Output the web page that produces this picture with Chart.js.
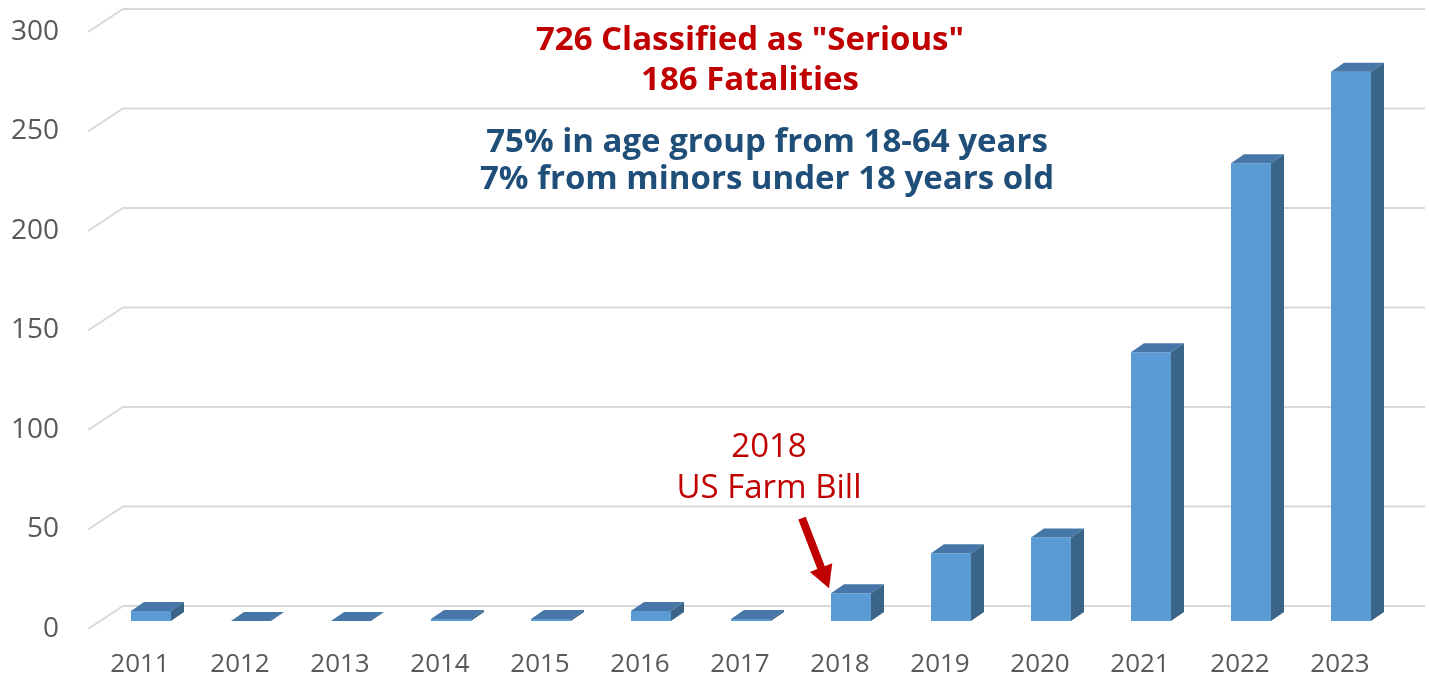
<!DOCTYPE html>
<html>
<head>
<meta charset="utf-8">
<script src="https://cdn.jsdelivr.net/npm/chart.js@4.4.1/dist/chart.umd.min.js"></script>
<style>
  html, body { margin: 0; padding: 0; background: #fff; }
  #wrap { width: 1429px; height: 676px; }
</style>
</head>
<body>
<div id="wrap"><canvas id="chart"></canvas></div>
<script>
const years = ['2011', '2012', '2013', '2014', '2015', '2016', '2017', '2018', '2019', '2020', '2021', '2022', '2023'];
const reports = [5, 0, 0, 1, 1, 5, 1, 14, 34, 42, 135, 230, 276];
const yTicks = [0, 50, 100, 150, 200, 250, 300];

const seriousNotes = ['726 Classified as "Serious"', '186 Fatalities'];
const ageNotes = ['75% in age group from 18-64 years', '7% from minors under 18 years old'];
const farmBillNotes = ['2018', 'US Farm Bill'];
const farmBillYear = '2018';

// fake 3d: floor depth, where the bars sit inside it, and bar depth
const WALL_DX = 35, WALL_DY = 23;
const BAR_DX = 11, BAR_DY = 8;
const SIDE_DX = 13, SIDE_DY = 9;

const FONT = '"Open Sans", sans-serif';
const RED = '#C00000';
const BLUE = '#1F4E79';

const wall3d = {
  id: 'wall3d',
  beforeDatasetsDraw(chart) {
    const { ctx, chartArea, scales } = chart;
    ctx.save();
    ctx.strokeStyle = '#D9D9D9';
    ctx.lineWidth = 2;
    yTicks.forEach(v => {
      const y = scales.y.getPixelForValue(v);
      ctx.beginPath();
      ctx.moveTo(chartArea.left - 2, y);
      ctx.lineTo(chartArea.left - 2 + WALL_DX, y - WALL_DY);
      ctx.lineTo(chartArea.right + WALL_DX, y - WALL_DY);
      ctx.stroke();
    });
    ctx.restore();

    // bars are drawn a bit behind the front edge of the floor
    ctx.save();
    ctx.translate(BAR_DX, -BAR_DY);
  },
  afterDatasetsDraw(chart) {
    const { ctx } = chart;
    const meta = chart.getDatasetMeta(0);
    meta.data.forEach(bar => {
      const { x, y, base, width } = bar.getProps(['x', 'y', 'base', 'width'], true);
      const l = x - width / 2, r = x + width / 2;
      ctx.fillStyle = '#4677A8';
      ctx.beginPath();
      ctx.moveTo(l, y);
      ctx.lineTo(l + SIDE_DX, y - SIDE_DY);
      ctx.lineTo(r + SIDE_DX, y - SIDE_DY);
      ctx.lineTo(r, y);
      ctx.closePath();
      ctx.fill();
      ctx.fillStyle = '#3A6589';
      ctx.beginPath();
      ctx.moveTo(r, y);
      ctx.lineTo(r + SIDE_DX, y - SIDE_DY);
      ctx.lineTo(r + SIDE_DX, base - SIDE_DY);
      ctx.lineTo(r, base);
      ctx.closePath();
      ctx.fill();
    });
    ctx.restore();
  }
};

const notes = {
  id: 'notes',
  afterDraw(chart) {
    const { ctx } = chart;
    ctx.save();
    ctx.textAlign = 'center';
    ctx.textBaseline = 'alphabetic';

    ctx.fillStyle = RED;
    ctx.font = 'bold 33px ' + FONT;
    ctx.fillText(seriousNotes[0], 750, 50);
    ctx.fillText(seriousNotes[1], 750, 90);

    ctx.fillStyle = BLUE;
    ctx.font = 'bold 33px ' + FONT;
    ctx.fillText(ageNotes[0], 767, 152);
    ctx.fillText(ageNotes[1], 767, 189);

    ctx.fillStyle = RED;
    ctx.font = '33px ' + FONT;
    ctx.fillText(farmBillNotes[0], 769, 457);
    ctx.fillText(farmBillNotes[1], 769, 498);

    // arrow pointing at the 2018 bar
    const idx = years.indexOf(farmBillYear);
    const bar = chart.getDatasetMeta(0).data[idx];
    const tipX = bar.x - bar.width / 2 + BAR_DX - 2;
    const tipY = bar.y - BAR_DY - 5;
    const fromX = tipX - 27, fromY = tipY - 70;
    const ang = Math.atan2(tipY - fromY, tipX - fromX);
    const len = Math.hypot(tipX - fromX, tipY - fromY);
    ctx.translate(fromX, fromY);
    ctx.rotate(ang);
    ctx.fillStyle = RED;
    ctx.beginPath();
    ctx.moveTo(0, -4);
    ctx.lineTo(len - 22, -4);
    ctx.lineTo(len - 22, -12);
    ctx.lineTo(len, 0);
    ctx.lineTo(len - 22, 12);
    ctx.lineTo(len - 22, 4);
    ctx.lineTo(0, 4);
    ctx.closePath();
    ctx.fill();
    ctx.restore();
  }
};

new Chart(document.getElementById('chart'), {
  type: 'bar',
  data: {
    labels: years,
    datasets: [{
      label: 'Reports',
      data: reports,
      backgroundColor: '#5B9BD5',
      borderWidth: 0,
      barPercentage: 0.4,
      categoryPercentage: 1,
      clip: false
    }]
  },
  options: {
    responsive: true,
    maintainAspectRatio: false,
    animation: false,
    devicePixelRatio: 1,
    layout: {
      padding: { top: 32, right: 39, left: 0, bottom: 0 }
    },
    plugins: {
      legend: { display: false },
      tooltip: { enabled: false }
    },
    scales: {
      x: {
        grid: { display: false, drawTicks: false },
        border: { display: false },
        ticks: {
          color: '#595959',
          font: { family: FONT, size: 26 },
          padding: 20,
          maxRotation: 0
        },
        afterFit(scale) { scale.height = 47; }
      },
      y: {
        min: 0,
        max: 300,
        grid: { display: false, drawTicks: false },
        border: { display: false },
        ticks: {
          stepSize: 50,
          color: '#595959',
          font: { family: FONT, size: 28 },
          padding: 31
        },
        afterFit(scale) {
          scale.width = 90;
          // tick padding would otherwise push the plot area in from top and bottom
          scale.paddingTop = 0;
          scale.paddingBottom = 0;
        }
      }
    }
  },
  plugins: [wall3d, notes]
});
</script>
</body>
</html>
